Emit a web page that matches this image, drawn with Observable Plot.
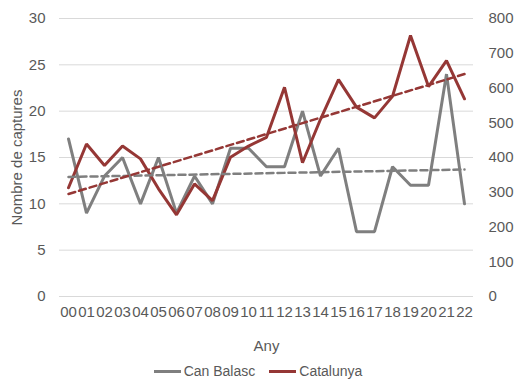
<!DOCTYPE html>
<html><head><meta charset="utf-8">
<script src="https://cdn.jsdelivr.net/npm/d3@7"></script>
<script src="https://cdn.jsdelivr.net/npm/@observablehq/plot@0.6"></script>
<style>
body{margin:0;background:#fff;font-family:"Liberation Sans",Arial,sans-serif;}
#chart svg{display:block}
#legend{display:flex;justify-content:center;align-items:center;gap:14px;font-size:14px;color:#595959;height:28px;margin-top:2px;}
.item{display:flex;align-items:center;gap:3px}
.sw{display:inline-block;width:27px;height:3px}
</style></head>
<body><div id="chart"></div><div id="legend"></div>
<script>
const years = ["00","01","02","03","04","05","06","07","08","09","10","11","12","13","14","15","16","17","18","19","20","21","22"];
const canBalasc = [17,9,13,15,10,15,9,13,10,16,16,14,14,20,13,16,7,7,14,12,12,24,10];
const catalunya = [313,439,377,433,396,310,235,324,276,401,433,458,602,385,510,624,545,514,576,751,604,679,569];
const leftTicks = [0,5,10,15,20,25,30];
const rightTicks = [0,100,200,300,400,500,600,700,800];
const seriesNames = ["Can Balasc","Catalunya"];
const colors = ["#7f7f7f","#953735"];

const ratio = 30/800;
const gray = years.map((y,i)=>({i, v: canBalasc[i]}));
const red = years.map((y,i)=>({i, v: catalunya[i]*ratio}));

const plot = Plot.plot({
  width:516, height:355,
  marginLeft:59, marginRight:43, marginTop:18, marginBottom:59,
  style:{fontFamily:"Liberation Sans, Arial, sans-serif", fontSize:"15px", color:"#595959", background:"#fff"},
  x:{type:"linear", domain:[-0.5,22.5]},
  y:{domain:[0,30]},
  marks:[
    Plot.gridY(leftTicks,{stroke:"#d9d9d9", strokeOpacity:1, strokeWidth:1}),
    Plot.axisX(d3.range(years.length),{tickSize:0, tickPadding:10, tickFormat:i=>years[i], fontSize:15, label:"Any", labelAnchor:"center", labelOffset:54, labelArrow:"none"}),
    Plot.axisY(leftTicks,{anchor:"left", tickSize:0, tickPadding:14, fontSize:15, label:"Nombre de captures", labelAnchor:"center", labelOffset:48, labelArrow:"none"}),
    Plot.axisY(rightTicks.map(d=>d*ratio),{anchor:"right", tickSize:0, tickPadding:15, textAnchor:"start", fontSize:15, tickFormat:d=>String(Math.round(d/ratio)), label:null}),
    Plot.line(gray,{x:"i", y:"v", stroke:colors[0], strokeWidth:3, strokeLinejoin:"miter"}),
    Plot.line(red,{x:"i", y:"v", stroke:colors[1], strokeWidth:3, strokeLinejoin:"miter"}),
    Plot.linearRegressionY(gray,{x:"i", y:"v", stroke:colors[0], strokeWidth:2.5, strokeDasharray:"7,4", ci:0}),
    Plot.linearRegressionY(red,{x:"i", y:"v", stroke:colors[1], strokeWidth:2.5, strokeDasharray:"7,4", ci:0})
  ]
});
document.getElementById("chart").appendChild(plot);
const lg = document.getElementById("legend");
seriesNames.forEach((n,k)=>{
  const it=document.createElement("span");it.className="item";
  it.innerHTML=`<span class="sw" style="background:${colors[k]}"></span><span>${n}</span>`;
  lg.appendChild(it);
});
</script></body></html>
